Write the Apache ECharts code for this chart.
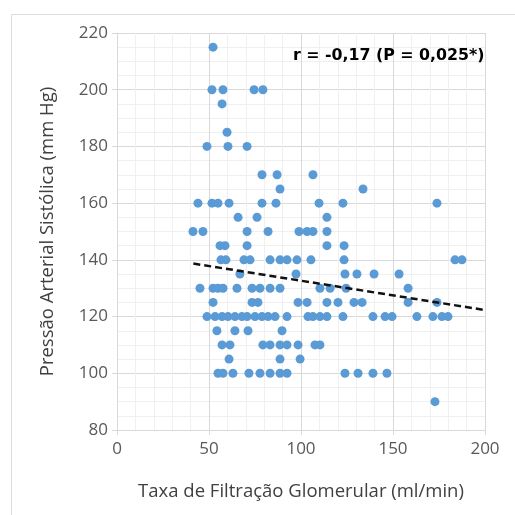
<!DOCTYPE html>
<html>
<head>
<meta charset="utf-8">
<script src="https://cdn.jsdelivr.net/npm/echarts@6/dist/echarts.min.js"></script>
<style>html,body{margin:0;padding:0;background:#fff}#c{width:515px;height:515px}</style>
</head>
<body>
<div id="c"></div>
<script>
// Taxa de Filtração Glomerular (ml/min)
var tfgValues = [
 52.2,
 51.6, 57.6, 74.5, 79.3,
 57.1,
 59.8,
 48.9, 60.3, 70.7,
 78.8, 87.0, 106.5,
 88.6, 133.7,
 44.0, 51.6, 54.9, 60.9, 78.8, 86.4, 109.8, 122.8, 173.9,
 65.8, 76.1, 114.1,
 41.3, 46.7, 70.7, 82.1, 98.9, 103.3, 106.5, 114.1,
 56.0, 58.7, 70.7, 114.1, 123.4,
 56.5, 59.2, 69.0, 72.3, 83.2, 88.6, 92.4, 97.8, 105.4, 123.4, 183.7, 187.5,
 66.8, 97.3, 123.9, 130.4, 139.7, 153.3,
 45.1, 52.2, 54.9, 57.6, 65.2, 73.4, 77.7, 83.2, 88.6, 110.3, 115.8, 124.5, 158.2,
 52.2, 73.4, 76.6, 98.4, 103.3, 114.1, 120.1, 128.8, 133.2, 158.2, 173.9,
 48.9, 53.3, 57.1, 60.3, 64.1, 67.9, 70.7, 75.0, 78.8, 82.1, 85.9, 92.4, 103.8, 106.5, 110.3, 114.1, 122.8, 139.1, 145.7, 149.5, 163.0, 171.7, 176.6, 179.9,
 54.3, 64.1, 71.2, 89.7,
 57.1, 61.4, 79.3, 83.2, 88.6, 92.4, 98.4, 107.6, 110.3,
 60.9, 88.6, 99.5,
 54.9, 57.6, 63.0, 71.7, 77.7, 83.2, 88.6, 92.4, 123.9, 131.0, 139.1, 146.7,
 172.8
];
// Pressão Arterial Sistólica (mm Hg)
var pasValues = [
 215,
 200, 200, 200, 200,
 195,
 185,
 180, 180, 180,
 170, 170, 170,
 165, 165,
 160, 160, 160, 160, 160, 160, 160, 160, 160,
 155, 155, 155,
 150, 150, 150, 150, 150, 150, 150, 150,
 145, 145, 145, 145, 145,
 140, 140, 140, 140, 140, 140, 140, 140, 140, 140, 140, 140,
 135, 135, 135, 135, 135, 135,
 130, 130, 130, 130, 130, 130, 130, 130, 130, 130, 130, 130, 130,
 125, 125, 125, 125, 125, 125, 125, 125, 125, 125, 125,
 120, 120, 120, 120, 120, 120, 120, 120, 120, 120, 120, 120, 120, 120, 120, 120, 120, 120, 120, 120, 120, 120, 120, 120,
 115, 115, 115, 115,
 110, 110, 110, 110, 110, 110, 110, 110, 110,
 105, 105, 105,
 100, 100, 100, 100, 100, 100, 100, 100, 100, 100, 100, 100,
 90
];
var trendX = [41.5, 200];
var trendY = [138.7, 122.3];
var xTicks = [0, 50, 100, 150, 200];
var yTicks = [80, 100, 120, 140, 160, 180, 200, 220];
var annotation = 'r = -0,17 (P = 0,025*)';
var xName = 'Taxa de Filtração Glomerular (ml/min)';
var yName = 'Pressão Arterial Sistólica (mm Hg)';

var pts = tfgValues.map(function (x, i) { return [x, pasValues[i]]; });
var trend = trendX.map(function (x, i) { return [x, trendY[i]]; });
var FONT = 'Open Sans';

var chart = echarts.init(document.getElementById('c'), null, {renderer: 'canvas'});
chart.setOption({
  animation: false,
  backgroundColor: '#fff',
  grid: {left: 117, top: 33, width: 368, height: 397, containLabel: false},
  xAxis: {
    type: 'value', min: xTicks[0], max: xTicks[xTicks.length - 1], interval: 50,
    name: xName, nameLocation: 'middle', nameGap: 52,
    nameTextStyle: {fontFamily: FONT, fontSize: 18.5, color: '#404040'},
    axisLine: {show: true, lineStyle: {color: '#d9d9d9', width: 1}},
    axisTick: {show: true, inside: false, length: 5, lineStyle: {color: '#d9d9d9'}},
    axisLabel: {fontFamily: FONT, fontSize: 17, color: '#595959', margin: 11},
    splitLine: {show: true, lineStyle: {color: '#d9d9d9', width: 1}},
    minorTick: {show: false, splitNumber: 5},
    minorSplitLine: {show: true, lineStyle: {color: '#f0f0f0', width: 1}}
  },
  yAxis: {
    type: 'value', min: yTicks[0], max: yTicks[yTicks.length - 1], interval: 20,
    name: yName, nameLocation: 'middle', nameGap: 60, nameRotate: 90,
    nameTextStyle: {fontFamily: FONT, fontSize: 18.5, color: '#404040'},
    axisLine: {show: true, lineStyle: {color: '#d9d9d9', width: 1}},
    axisTick: {show: true, inside: false, length: 5, lineStyle: {color: '#d9d9d9'}},
    axisLabel: {fontFamily: FONT, fontSize: 17, color: '#595959', margin: 9},
    splitLine: {show: true, lineStyle: {color: '#d9d9d9', width: 1}},
    minorTick: {show: false, splitNumber: 4},
    minorSplitLine: {show: true, lineStyle: {color: '#f0f0f0', width: 1}}
  },
  series: [
    {
      type: 'scatter', data: pts, symbol: 'circle', symbolSize: 9,
      itemStyle: {color: '#5b9bd5', opacity: 1}, z: 3
    },
    {
      type: 'line', data: trend, symbol: 'none', z: 4,
      lineStyle: {color: '#111', width: 2.5, type: [7, 4]}
    }
  ],
  graphic: [
    {type: 'rect', left: 9, top: 12, shape: {width: 520, height: 520},
     style: {fill: 'none', stroke: '#dcdcdc', lineWidth: 1}, silent: true, z: -1},
    {type: 'text', left: 293, top: 48, z: 100,
     style: {text: annotation, fontFamily: 'DejaVu Sans', fontSize: 15.8, fontWeight: 'bold', fill: '#000'}}
  ]
});
</script>
</body>
</html>
